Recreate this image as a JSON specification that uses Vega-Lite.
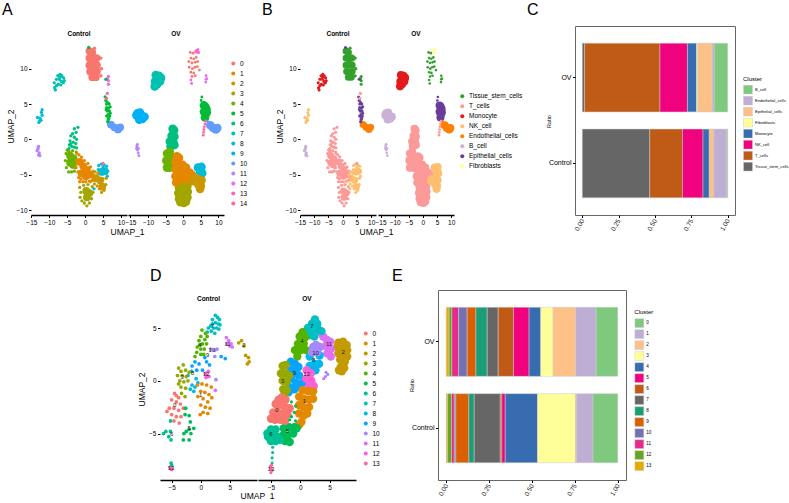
{
"$schema":"https://vega.github.io/schema/vega-lite/v6.json",
"background":"white",
"padding":{"left":0,"top":2,"right":0,"bottom":0},
"config":{"font":"Liberation Sans","view":{"stroke":null},"axis":{"grid":false,"labelFlush":false,"labelOverlap":false,"domainColor":"#000","tickColor":"#000","labelColor":"#000","titleColor":"#000","titleFontWeight":"normal","labelPadding":1.5,"tickSize":2.5},"title":{"color":"#000"}},
"datasets":{
"types":[{"c":0,"t":"Tissue_stem_cells"},{"c":12,"t":"Tissue_stem_cells"},{"c":1,"t":"T_cells"},{"c":3,"t":"T_cells"},{"c":4,"t":"T_cells"},{"c":6,"t":"T_cells"},{"c":14,"t":"T_cells"},{"c":7,"t":"Monocyte"},{"c":2,"t":"NK_cell"},{"c":8,"t":"NK_cell"},{"c":10,"t":"Endothelial_cells"},{"c":9,"t":"B_cell"},{"c":11,"t":"B_cell"},{"c":5,"t":"Epithelial_cells"},{"c":13,"t":"Fibroblasts"}],
"ctrlCore":[{"x":1.2,"y":12.5,"c":0},{"x":2,"y":12.3,"c":0},{"x":1.2,"y":11.5,"c":0},{"x":2.2,"y":11.4,"c":0},{"x":3.2,"y":11.5,"c":0},{"x":1.2,"y":10.5,"c":0},{"x":2.2,"y":10.5,"c":0},{"x":3.3,"y":10.5,"c":0},{"x":1.4,"y":9.6,"c":0},{"x":2.4,"y":9.5,"c":0},{"x":3.3,"y":9.6,"c":0},{"x":2,"y":8.8,"c":0},{"x":3,"y":8.8,"c":0},{"x":7.2,"y":2.1,"c":10},{"x":8.2,"y":1.7,"c":10},{"x":9.2,"y":1.4,"c":10},{"x":9.8,"y":1.7,"c":10},{"x":-4.2,"y":-2.3,"c":4},{"x":-4.2,"y":-3.3,"c":4},{"x":-3.2,"y":-2.7,"c":4},{"x":-3.4,"y":-3.6,"c":4},{"x":-1.5,"y":-3.2,"c":1},{"x":-0.5,"y":-3.8,"c":1},{"x":0.5,"y":-4.3,"c":1},{"x":-1,"y":-4.8,"c":1},{"x":0.2,"y":-5.2,"c":1},{"x":1.4,"y":-5,"c":1},{"x":0.3,"y":-7.3,"c":3},{"x":0.5,"y":-8.2,"c":3},{"x":1.2,"y":-7.6,"c":3},{"x":3,"y":-5.5,"c":2},{"x":4.2,"y":-5.8,"c":2},{"x":4.8,"y":-6.7,"c":2},{"x":4.6,"y":-4.6,"c":8},{"x":5.5,"y":-4.5,"c":8}],
"ctrlFine":[{"x":-8.5,"y":7.3,"c":7},{"x":-8.6,"y":8,"c":7},{"x":-8,"y":7.6,"c":7},{"x":-8,"y":8.5,"c":7},{"x":-7.6,"y":9,"c":7},{"x":-7,"y":9.2,"c":7},{"x":-6.5,"y":9,"c":7},{"x":-6,"y":8.7,"c":7},{"x":-6.1,"y":8,"c":7},{"x":-6.6,"y":8.2,"c":7},{"x":-7.2,"y":8.5,"c":7},{"x":-7.5,"y":7.8,"c":7},{"x":-6.8,"y":7.7,"c":7},{"x":-8.3,"y":7,"c":7},{"x":-5.8,"y":8.3,"c":7},{"x":-7,"y":8.8,"c":7},{"x":6.5,"y":8.9,"c":12},{"x":6.5,"y":8.3,"c":12},{"x":6.5,"y":7.8,"c":12},{"x":6.2,"y":8.6,"c":12},{"x":5.8,"y":8.5,"c":5},{"x":5.6,"y":6,"c":5},{"x":5.8,"y":5.5,"c":5},{"x":6,"y":5,"c":5},{"x":6.3,"y":5.2,"c":5},{"x":6.7,"y":5,"c":5},{"x":6,"y":4.5,"c":5},{"x":6.5,"y":4.4,"c":5},{"x":7,"y":4.6,"c":5},{"x":6.2,"y":4,"c":5},{"x":6.8,"y":4,"c":5},{"x":6.4,"y":3.5,"c":5},{"x":6,"y":3.3,"c":5},{"x":6.9,"y":3.3,"c":5},{"x":6.5,"y":2.8,"c":5},{"x":6.3,"y":2.5,"c":5},{"x":5.9,"y":4.2,"c":5},{"x":6.6,"y":3,"c":5},{"x":7,"y":3.7,"c":5},{"x":6,"y":5.8,"c":14},{"x":6.2,"y":6.5,"c":14},{"x":-12.6,"y":3,"c":8},{"x":-12.2,"y":3.8,"c":8},{"x":-12,"y":4.2,"c":8},{"x":-12.7,"y":2.6,"c":8},{"x":-13.3,"y":3.1,"c":8},{"x":-12,"y":3.4,"c":8},{"x":-12.3,"y":2.7,"c":8},{"x":-12.9,"y":2.4,"c":8},{"x":-13,"y":-1,"c":11},{"x":-13.2,"y":-1.4,"c":11},{"x":-13.4,"y":-1.6,"c":11},{"x":-12.8,"y":-1.9,"c":11},{"x":-13,"y":-2.2,"c":11},{"x":-13.1,"y":-1.2,"c":11},{"x":-12.6,"y":-2.3,"c":11},{"x":-2,"y":1.7,"c":6},{"x":-3,"y":1.5,"c":6},{"x":-2.5,"y":1,"c":6},{"x":-3.5,"y":0.8,"c":6},{"x":-4,"y":0.5,"c":6},{"x":-3,"y":0.3,"c":6},{"x":-2.4,"y":0,"c":6},{"x":-4.2,"y":-0.2,"c":6},{"x":-3.3,"y":-0.4,"c":6},{"x":-2.6,"y":-0.6,"c":6},{"x":-4.4,"y":-0.8,"c":6},{"x":-3.7,"y":-1,"c":6},{"x":-3,"y":-1.1,"c":6},{"x":-2.4,"y":-1.2,"c":6},{"x":-4.5,"y":-1.3,"c":6},{"x":-4,"y":-0.6,"c":6},{"x":-5.3,"y":-2,"c":4},{"x":-5.5,"y":-3,"c":4},{"x":-5.2,"y":-4,"c":4},{"x":-4.6,"y":-4.6,"c":4},{"x":-3.8,"y":-4.6,"c":4},{"x":-2.8,"y":-4,"c":4},{"x":-2.5,"y":-3,"c":4},{"x":-2.5,"y":-1.8,"c":4},{"x":-3.5,"y":-1.6,"c":4},{"x":-4.5,"y":-1.7,"c":4},{"x":-5,"y":-1.5,"c":4},{"x":-3,"y":-4.5,"c":4},{"x":-2.3,"y":-2,"c":1},{"x":-1.7,"y":-2.2,"c":1},{"x":-1,"y":-2.5,"c":1},{"x":-0.2,"y":-3,"c":1},{"x":0.8,"y":-3.4,"c":1},{"x":1.5,"y":-3.9,"c":1},{"x":2.2,"y":-4.5,"c":1},{"x":2.5,"y":-5.2,"c":1},{"x":-2.4,"y":-3,"c":1},{"x":-2.5,"y":-4,"c":1},{"x":-2,"y":-4.6,"c":1},{"x":-1.8,"y":-5.4,"c":1},{"x":-1.5,"y":-6,"c":1},{"x":-0.6,"y":-6,"c":1},{"x":0.2,"y":-6,"c":1},{"x":1.2,"y":-5.9,"c":1},{"x":2,"y":-5.8,"c":1},{"x":-1.2,"y":-5.6,"c":1},{"x":-1.5,"y":-6.8,"c":3},{"x":-1.2,"y":-7.5,"c":3},{"x":-1.4,"y":-8.2,"c":3},{"x":-0.9,"y":-8.7,"c":3},{"x":-0.2,"y":-9,"c":3},{"x":0.5,"y":-9.4,"c":3},{"x":1.2,"y":-9,"c":3},{"x":1.8,"y":-8.4,"c":3},{"x":2.2,"y":-7.5,"c":3},{"x":2,"y":-6.7,"c":3},{"x":0.8,"y":-6.4,"c":3},{"x":-0.4,"y":-6.5,"c":3},{"x":1.5,"y":-6,"c":2},{"x":2.2,"y":-5,"c":2},{"x":2.6,"y":-6.3,"c":2},{"x":3.4,"y":-6.6,"c":2},{"x":4,"y":-7,"c":2},{"x":4.6,"y":-7.5,"c":2},{"x":5.3,"y":-7.2,"c":2},{"x":5.8,"y":-6.4,"c":2},{"x":5.9,"y":-5.5,"c":2},{"x":3.6,"y":-4.8,"c":2},{"x":2.8,"y":-4.6,"c":2},{"x":5,"y":-5.6,"c":2},{"x":3.8,"y":-3.7,"c":8},{"x":4.5,"y":-3.5,"c":8},{"x":5.3,"y":-3.6,"c":8},{"x":6,"y":-3.8,"c":8},{"x":6.3,"y":-4.5,"c":8},{"x":6.2,"y":-5.2,"c":8},{"x":3.7,"y":-4.3,"c":8},{"x":5,"y":-3.9,"c":8},{"x":2.6,"y":12.9,"c":0},{"x":4.4,"y":11.5,"c":0},{"x":4.6,"y":10,"c":0},{"x":4.4,"y":9,"c":0},{"x":1,"y":13,"c":5},{"x":2.5,"y":-7,"c":8},{"x":5,"y":-3.4,"c":14}],
"ovCore":[{"x":-8,"y":8.2,"c":7},{"x":-7.2,"y":8.8,"c":7},{"x":-6.6,"y":8.2,"c":7},{"x":-7.4,"y":7.8,"c":7},{"x":-7.8,"y":9.1,"c":7},{"x":-6.9,"y":9,"c":7},{"x":-6.3,"y":8.7,"c":7},{"x":-8.1,"y":7.5,"c":7},{"x":-13.3,"y":3.4,"c":9},{"x":-12.3,"y":3.8,"c":9},{"x":-12,"y":3.4,"c":9},{"x":-11,"y":3.2,"c":9},{"x":-12.5,"y":2.8,"c":9},{"x":-13,"y":3.7,"c":9},{"x":-11.6,"y":2.9,"c":9},{"x":5.9,"y":4.8,"c":5},{"x":6.3,"y":4.6,"c":5},{"x":6.6,"y":4.3,"c":5},{"x":5.9,"y":3.9,"c":5},{"x":6.4,"y":3.6,"c":5},{"x":6.7,"y":3.8,"c":5},{"x":6.2,"y":3.1,"c":5},{"x":7.7,"y":2,"c":10},{"x":8.5,"y":1.6,"c":10},{"x":9.3,"y":1.4,"c":10},{"x":9.7,"y":1.6,"c":10},{"x":-3,"y":1.5,"c":6},{"x":-2.6,"y":1.3,"c":6},{"x":-3.3,"y":0.5,"c":6},{"x":-2.5,"y":0.4,"c":6},{"x":-3.8,"y":-0.3,"c":6},{"x":-2.8,"y":-0.4,"c":6},{"x":-2.5,"y":-0.8,"c":6},{"x":-3.6,"y":-1,"c":6},{"x":-4.6,"y":-2,"c":4},{"x":-3.8,"y":-1.8,"c":4},{"x":-4.8,"y":-3,"c":4},{"x":-4,"y":-3,"c":4},{"x":-3,"y":-2.7,"c":4},{"x":-4.6,"y":-4,"c":4},{"x":-3.8,"y":-4,"c":4},{"x":-3.2,"y":-3.6,"c":4},{"x":-1.2,"y":-6.8,"c":3},{"x":-0.5,"y":-6.5,"c":3},{"x":0.5,"y":-6.6,"c":3},{"x":1.2,"y":-6.6,"c":3},{"x":-1.4,"y":-7.6,"c":3},{"x":-0.7,"y":-7.4,"c":3},{"x":0.4,"y":-7.4,"c":3},{"x":1.3,"y":-7.4,"c":3},{"x":-1.2,"y":-8.4,"c":3},{"x":-0.5,"y":-8.3,"c":3},{"x":0.6,"y":-8.3,"c":3},{"x":1.2,"y":-8.2,"c":3},{"x":-0.8,"y":-8.9,"c":3},{"x":0.2,"y":-9,"c":3},{"x":0.8,"y":-8.8,"c":3},{"x":-1.8,"y":-2.4,"c":1},{"x":-1.2,"y":-2.6,"c":1},{"x":-2.2,"y":-3.2,"c":1},{"x":-1.2,"y":-3.6,"c":1},{"x":-0.2,"y":-3.6,"c":1},{"x":0.8,"y":-4,"c":1},{"x":-2.2,"y":-4.2,"c":1},{"x":-1.2,"y":-4.6,"c":1},{"x":-0.2,"y":-4.5,"c":1},{"x":0.8,"y":-4.8,"c":1},{"x":1.8,"y":-4.7,"c":1},{"x":2.5,"y":-5,"c":1},{"x":-2.2,"y":-5.2,"c":1},{"x":-1.2,"y":-5.5,"c":1},{"x":-2,"y":-6.1,"c":1},{"x":-0.2,"y":-5.5,"c":1},{"x":0.8,"y":-5.7,"c":1},{"x":1.8,"y":-5.5,"c":1},{"x":4.2,"y":-4,"c":8},{"x":5.2,"y":-3.9,"c":8},{"x":5.4,"y":-4.8,"c":8},{"x":4.8,"y":-4.6,"c":8},{"x":3.2,"y":-5.6,"c":2},{"x":4.2,"y":-5.6,"c":2},{"x":5.2,"y":-5.8,"c":2},{"x":4.3,"y":-6.4,"c":2},{"x":5,"y":-6.6,"c":2},{"x":4.8,"y":-7,"c":2},{"x":2.8,"y":-5.9,"c":2}],
"ovFine":[{"x":-13,"y":-0.7,"c":11},{"x":-13.1,"y":-1.1,"c":11},{"x":-13,"y":-1.5,"c":11},{"x":-12.8,"y":-1.9,"c":11},{"x":-12.6,"y":-2.3,"c":11},{"x":-13.3,"y":-1.3,"c":11},{"x":-12.7,"y":-1.3,"c":11},{"x":-13.2,"y":-0.9,"c":11},{"x":5.3,"y":6,"c":5},{"x":5.1,"y":5.5,"c":5},{"x":7,"y":2.5,"c":10},{"x":5.7,"y":0.6,"c":14},{"x":5.8,"y":1,"c":14},{"x":5.9,"y":1.4,"c":14},{"x":6,"y":1.8,"c":14},{"x":6.2,"y":2.2,"c":14},{"x":6.4,"y":2.6,"c":14},{"x":3.8,"y":12.6,"c":13},{"x":4.1,"y":12.3,"c":13},{"x":3.5,"y":12.4,"c":13},{"x":4.2,"y":12.7,"c":13},{"x":4.4,"y":12.3,"c":13},{"x":2.2,"y":8.4,"c":12},{"x":2.4,"y":7.9,"c":12},{"x":6.5,"y":9,"c":12},{"x":6.5,"y":8.5,"c":12},{"x":6.4,"y":8.1,"c":12},{"x":6.7,"y":8.6,"c":12},{"x":2,"y":12.3,"c":0},{"x":2.8,"y":12.2,"c":0},{"x":2.2,"y":11.5,"c":0},{"x":3,"y":11.4,"c":0},{"x":3.7,"y":11.6,"c":0},{"x":1.6,"y":11,"c":0},{"x":2.5,"y":10.8,"c":0},{"x":3.4,"y":10.9,"c":0},{"x":4.1,"y":11,"c":0},{"x":1.7,"y":10.2,"c":0},{"x":2.6,"y":10,"c":0},{"x":3.3,"y":10.2,"c":0},{"x":4,"y":10.3,"c":0},{"x":2.2,"y":9.5,"c":0},{"x":3,"y":9.4,"c":0},{"x":4.6,"y":9.8,"c":0},{"x":2.5,"y":8.9,"c":0},{"x":3.4,"y":9,"c":0}],
"dCtrl":[{"x":2.5,"y":6.2,"c":7},{"x":2.9,"y":6,"c":7},{"x":3.2,"y":5.8,"c":7},{"x":2,"y":5.8,"c":7},{"x":2.5,"y":5.5,"c":7},{"x":3,"y":5.4,"c":7},{"x":1.7,"y":5.2,"c":7},{"x":2.2,"y":5,"c":7},{"x":2.7,"y":5,"c":7},{"x":1.3,"y":5,"c":7},{"x":3.3,"y":5.3,"c":7},{"x":2.4,"y":4.5,"c":7},{"x":1.8,"y":4.7,"c":7},{"x":1.1,"y":4.6,"c":7},{"x":3.1,"y":4.9,"c":7},{"x":2,"y":5.4,"c":7},{"x":0.2,"y":4.8,"c":4},{"x":0.8,"y":4.5,"c":4},{"x":0,"y":4.2,"c":4},{"x":0.7,"y":3.9,"c":4},{"x":-0.3,"y":3.8,"c":4},{"x":0.3,"y":3.5,"c":4},{"x":1,"y":3.5,"c":4},{"x":-0.6,"y":3.2,"c":4},{"x":0,"y":3,"c":4},{"x":0.6,"y":3,"c":4},{"x":-0.7,"y":2.7,"c":4},{"x":0,"y":2.5,"c":4},{"x":1.1,"y":4.2,"c":4},{"x":-0.2,"y":3.4,"c":4},{"x":0.5,"y":2.5,"c":4},{"x":-1,"y":2.3,"c":4},{"x":-1,"y":1.8,"c":9},{"x":-0.3,"y":1.6,"c":9},{"x":0.7,"y":2.2,"c":9},{"x":1,"y":1.8,"c":9},{"x":-1.5,"y":1.4,"c":9},{"x":-0.7,"y":1,"c":9},{"x":0.3,"y":1,"c":9},{"x":1.5,"y":1.5,"c":9},{"x":3.5,"y":2.3,"c":9},{"x":4.2,"y":2.1,"c":9},{"x":-1.5,"y":-0.4,"c":8},{"x":-1,"y":-0.6,"c":8},{"x":-1.8,"y":-0.8,"c":8},{"x":-1.2,"y":-1,"c":8},{"x":-0.5,"y":-0.2,"c":8},{"x":-2.2,"y":0.5,"c":8},{"x":-1.6,"y":0.9,"c":8},{"x":-0.8,"y":0.2,"c":8},{"x":-3.8,"y":1.2,"c":3},{"x":-3,"y":1.5,"c":3},{"x":-3.4,"y":0.9,"c":3},{"x":-2.6,"y":1,"c":3},{"x":-4,"y":0.5,"c":3},{"x":-3.2,"y":0.5,"c":3},{"x":-2.5,"y":0.4,"c":3},{"x":-3.6,"y":0,"c":3},{"x":-2.9,"y":-0.1,"c":3},{"x":-2.2,"y":0,"c":3},{"x":-3.4,"y":-0.6,"c":3},{"x":-2.6,"y":-0.7,"c":3},{"x":-3.3,"y":-1.2,"c":3},{"x":-2.7,"y":-1.5,"c":3},{"x":-3.8,"y":-0.3,"c":3},{"x":-2,"y":0.8,"c":3},{"x":-4.5,"y":-1.2,"c":0},{"x":-3.8,"y":-1.6,"c":0},{"x":-5,"y":-1.8,"c":0},{"x":-4.2,"y":-2,"c":0},{"x":-3.5,"y":-2.2,"c":0},{"x":-5.4,"y":-2.6,"c":0},{"x":-4.6,"y":-2.6,"c":0},{"x":-3.8,"y":-2.8,"c":0},{"x":-3,"y":-2.6,"c":0},{"x":-5,"y":-3.2,"c":0},{"x":-4.2,"y":-3.4,"c":0},{"x":-3.4,"y":-3.4,"c":0},{"x":-4.6,"y":-3.8,"c":0},{"x":-3.7,"y":-4,"c":0},{"x":-5.8,"y":-2.9,"c":0},{"x":-4.2,"y":-1.4,"c":0},{"x":-0.6,"y":-0.4,"c":1},{"x":0.2,"y":-0.3,"c":1},{"x":1,"y":-0.4,"c":1},{"x":1.8,"y":-0.6,"c":1},{"x":0,"y":-1,"c":1},{"x":0.7,"y":-1.1,"c":1},{"x":1.4,"y":-1.3,"c":1},{"x":-0.5,"y":-1.5,"c":1},{"x":0.4,"y":-1.7,"c":1},{"x":1.2,"y":-2,"c":1},{"x":1.9,"y":-1.6,"c":1},{"x":0,"y":-2.3,"c":1},{"x":0.8,"y":-2.5,"c":1},{"x":1.6,"y":-2.6,"c":1},{"x":0.4,"y":-3,"c":1},{"x":1.2,"y":-3.1,"c":1},{"x":-0.1,"y":-3.2,"c":1},{"x":-6,"y":-4.8,"c":6},{"x":-5.5,"y":-5.3,"c":6},{"x":-5.1,"y":-5.6,"c":6},{"x":-6.4,"y":-5,"c":6},{"x":-5.2,"y":-3.8,"c":6},{"x":-5.2,"y":-4.8,"c":6},{"x":-5,"y":-8,"c":6},{"x":-5.1,"y":-7.8,"c":6},{"x":-2,"y":-3.3,"c":5},{"x":-2.6,"y":-2.6,"c":5},{"x":-1.8,"y":-3.9,"c":5},{"x":-2.5,"y":-4.8,"c":5},{"x":-2.9,"y":-5,"c":5},{"x":-2,"y":-4.6,"c":5},{"x":-1.2,"y":-4.5,"c":5},{"x":-1.7,"y":-5,"c":5},{"x":-3,"y":-5.6,"c":5},{"x":-2,"y":-5.6,"c":5},{"x":-2.7,"y":-3.2,"c":5},{"x":2.4,"y":2.9,"c":10},{"x":2.8,"y":3,"c":10},{"x":1.7,"y":3,"c":10},{"x":2.4,"y":2.3,"c":10},{"x":2.6,"y":0.1,"c":10},{"x":2.5,"y":-0.9,"c":11},{"x":4.4,"y":4.1,"c":11},{"x":4.5,"y":3.5,"c":11},{"x":5,"y":3.3,"c":11},{"x":5.2,"y":3.5,"c":11},{"x":5.4,"y":3.2,"c":11},{"x":4.8,"y":3.8,"c":11},{"x":6.5,"y":3.6,"c":2},{"x":7,"y":3.8,"c":2},{"x":7.4,"y":3.3,"c":2},{"x":7.7,"y":2.4,"c":2},{"x":8.2,"y":2.2,"c":2},{"x":8.3,"y":1.8,"c":2},{"x":8,"y":1.6,"c":2},{"x":0.8,"y":0.7,"c":12},{"x":1.1,"y":0.5,"c":12},{"x":1.3,"y":0.9,"c":12},{"x":0.9,"y":0.3,"c":12},{"x":1.4,"y":0.4,"c":12},{"x":-5.1,"y":-8.3,"c":13},{"x":-5,"y":-8.4,"c":13},{"x":-5.3,"y":-8.2,"c":13}],
"dOvCore":[{"x":7.3,"y":3.7,"c":2},{"x":6.5,"y":3.6,"c":2},{"x":7.9,"y":3.4,"c":2},{"x":6.3,"y":3.2,"c":2},{"x":7.2,"y":3.2,"c":2},{"x":8,"y":2.9,"c":2},{"x":6.5,"y":2.6,"c":2},{"x":7.3,"y":2.6,"c":2},{"x":8,"y":2.3,"c":2},{"x":6.8,"y":2,"c":2},{"x":7.6,"y":1.8,"c":2},{"x":6.9,"y":1.3,"c":2},{"x":7.5,"y":1.2,"c":2},{"x":6.6,"y":1,"c":2},{"x":7.1,"y":0.9,"c":2},{"x":3.9,"y":4.2,"c":11},{"x":4.5,"y":3.9,"c":11},{"x":5.1,"y":3.7,"c":11},{"x":4.4,"y":3.3,"c":11},{"x":5.2,"y":3,"c":11},{"x":5.2,"y":2.3,"c":11},{"x":4.6,"y":2.6,"c":11},{"x":3.5,"y":4.6,"c":11},{"x":2.5,"y":5.8,"c":7},{"x":2,"y":5.4,"c":7},{"x":2.9,"y":5.4,"c":7},{"x":1.3,"y":5,"c":7},{"x":2.1,"y":4.8,"c":7},{"x":3,"y":4.9,"c":7},{"x":0.8,"y":4.6,"c":7},{"x":3.6,"y":4.7,"c":7},{"x":1.5,"y":4.3,"c":7},{"x":2.4,"y":4.2,"c":7},{"x":0.4,"y":4.6,"c":4},{"x":0.8,"y":4.1,"c":4},{"x":-0.1,"y":4.2,"c":4},{"x":0.6,"y":3.5,"c":4},{"x":-0.4,"y":3.5,"c":4},{"x":-0.9,"y":2.9,"c":4},{"x":0.1,"y":2.9,"c":4},{"x":-0.5,"y":2.3,"c":4},{"x":1,"y":2.9,"c":4},{"x":1.6,"y":2.3,"c":8},{"x":2.4,"y":1.6,"c":8},{"x":3.2,"y":1.6,"c":8},{"x":2.6,"y":1,"c":8},{"x":1.6,"y":1.4,"c":8},{"x":3.3,"y":2.4,"c":8},{"x":2.2,"y":3.2,"c":10},{"x":2.9,"y":2.7,"c":10},{"x":3.4,"y":3.2,"c":10},{"x":2,"y":2.7,"c":10},{"x":2.7,"y":3.4,"c":10},{"x":-1.6,"y":1.8,"c":9},{"x":-0.9,"y":1.6,"c":9},{"x":-0.3,"y":1.3,"c":9},{"x":-1.6,"y":1,"c":9},{"x":-0.9,"y":0.8,"c":9},{"x":-0.2,"y":0.5,"c":9},{"x":-1.5,"y":0.2,"c":9},{"x":-0.7,"y":-0.2,"c":9},{"x":-1.8,"y":-0.6,"c":9},{"x":-1,"y":-0.8,"c":9},{"x":-2,"y":-1.1,"c":9},{"x":-0.2,"y":-0.6,"c":9},{"x":0.4,"y":-0.2,"c":9},{"x":1.1,"y":1,"c":12},{"x":1.8,"y":0.7,"c":12},{"x":1,"y":0.2,"c":12},{"x":1.9,"y":0,"c":12},{"x":2.3,"y":-0.5,"c":12},{"x":1.5,"y":-0.5,"c":12},{"x":-3,"y":1.4,"c":3},{"x":-2.5,"y":1.5,"c":3},{"x":-3.3,"y":0.7,"c":3},{"x":-2.5,"y":0.7,"c":3},{"x":-1.9,"y":0.5,"c":3},{"x":-3,"y":0,"c":3},{"x":-2.3,"y":-0.1,"c":3},{"x":-2.9,"y":-0.8,"c":3},{"x":-2.3,"y":-0.9,"c":3},{"x":-2.7,"y":-1.3,"c":3},{"x":0.4,"y":-0.9,"c":1},{"x":1.4,"y":-1,"c":1},{"x":2.2,"y":-1,"c":1},{"x":-0.2,"y":-1.5,"c":1},{"x":0.6,"y":-1.7,"c":1},{"x":1.5,"y":-1.8,"c":1},{"x":2.2,"y":-1.7,"c":1},{"x":-0.2,"y":-2.3,"c":1},{"x":0.6,"y":-2.5,"c":1},{"x":1.5,"y":-2.5,"c":1},{"x":-0.2,"y":-3.1,"c":1},{"x":0.6,"y":-3.3,"c":1},{"x":1.2,"y":-3.1,"c":1},{"x":0.2,"y":-3.9,"c":1},{"x":-0.2,"y":-4.2,"c":1},{"x":-2.8,"y":-4.5,"c":5},{"x":-1.9,"y":-4.4,"c":5},{"x":-1,"y":-4.4,"c":5},{"x":-3,"y":-5.2,"c":5},{"x":-2.2,"y":-5.2,"c":5},{"x":-1.2,"y":-5,"c":5},{"x":-2.6,"y":-5.7,"c":5},{"x":-1.8,"y":-5.8,"c":5},{"x":-0.6,"y":-4.5,"c":5},{"x":-5.6,"y":-5,"c":6},{"x":-5,"y":-4.6,"c":6},{"x":-4.2,"y":-4.6,"c":6},{"x":-5.5,"y":-5.3,"c":6},{"x":-4.9,"y":-5.3,"c":6},{"x":-4,"y":-5.3,"c":6},{"x":-5,"y":-5.7,"c":6},{"x":-4.2,"y":-5.7,"c":6},{"x":-3.5,"y":-5.6,"c":6},{"x":-3.2,"y":-1.6,"c":0},{"x":-3.7,"y":-1.8,"c":0},{"x":-2.5,"y":-1.8,"c":0},{"x":-4.2,"y":-2.2,"c":0},{"x":-3.5,"y":-2.3,"c":0},{"x":-2.6,"y":-2.5,"c":0},{"x":-1.8,"y":-2.6,"c":0},{"x":-4.6,"y":-3,"c":0},{"x":-3.9,"y":-3,"c":0},{"x":-3,"y":-3.1,"c":0},{"x":-2.2,"y":-3.2,"c":0},{"x":-5,"y":-3.6,"c":0},{"x":-4.3,"y":-3.7,"c":0},{"x":-3.4,"y":-3.7,"c":0},{"x":-2.6,"y":-3.8,"c":0}],
"dOvFine":[{"x":-4.7,"y":-6.3,"c":6},{"x":-4.7,"y":-6.8,"c":6},{"x":-4.8,"y":-7.3,"c":6},{"x":-4.8,"y":-7.8,"c":6},{"x":-5,"y":-8.3,"c":13},{"x":-5.1,"y":-8.1,"c":13},{"x":-4.8,"y":-8.5,"c":13},{"x":-5,"y":-8.7,"c":13},{"x":-4.9,"y":-8,"c":13},{"x":-1.5,"y":-2,"c":5},{"x":-1,"y":-3,"c":5},{"x":-1.5,"y":-3.4,"c":5},{"x":-0.8,"y":-2.4,"c":5},{"x":-1.8,"y":-3.7,"c":5},{"x":-0.8,"y":-3.8,"c":5},{"x":4.4,"y":0.8,"c":10},{"x":4.3,"y":0.4,"c":10},{"x":4.7,"y":0.6,"c":10},{"x":4,"y":0.2,"c":11}],
"dLabCtrl":[{"x":-4.5,"y":-2.3,"c":"0"},{"x":0,"y":-1.3,"c":"1"},{"x":7.4,"y":3.4,"c":"2"},{"x":-3.2,"y":0.4,"c":"3"},{"x":-0.1,"y":3.4,"c":"4"},{"x":-2,"y":-4.5,"c":"5"},{"x":-5,"y":-5,"c":"6"},{"x":2,"y":5.2,"c":"7"},{"x":-1.4,"y":0.7,"c":"8"},{"x":1.2,"y":2.4,"c":"9"},{"x":1.9,"y":2.9,"c":"10"},{"x":4.6,"y":3.5,"c":"11"},{"x":0.9,"y":0.6,"c":"12"},{"x":-5.1,"y":-8.3,"c":"13"}],
"dLabOv":[{"x":-4,"y":-2.8,"c":"0"},{"x":0.7,"y":-1.9,"c":"1"},{"x":7.3,"y":2.7,"c":"2"},{"x":-3,"y":0,"c":"3"},{"x":0.3,"y":3.8,"c":"4"},{"x":-2.2,"y":-4.8,"c":"5"},{"x":-5,"y":-5,"c":"6"},{"x":2,"y":5.2,"c":"7"},{"x":2.3,"y":2,"c":"8"},{"x":-1,"y":0.7,"c":"9"},{"x":2.6,"y":2.6,"c":"10"},{"x":4.9,"y":3.5,"c":"11"},{"x":1.1,"y":0.6,"c":"12"},{"x":-5,"y":-8.4,"c":"13"}],
"barC":[{"g":"Control","k":"Tissue_stem_cells","v":0.464},{"g":"Control","k":"T_cells","v":0.225},{"g":"Control","k":"NK_cell","v":0.141},{"g":"Control","k":"Monocyte","v":0.043},{"g":"Control","k":"Epithelial_cells","v":0.032},{"g":"Control","k":"Endothelial_cells","v":0.088},{"g":"Control","k":"B_cell","v":0.007},{"g":"OV","k":"Tissue_stem_cells","v":0.016},{"g":"OV","k":"T_cells","v":0.518},{"g":"OV","k":"NK_cell","v":0.189},{"g":"OV","k":"Monocyte","v":0.063},{"g":"OV","k":"Fibroblasts","v":0.009},{"g":"OV","k":"Epithelial_cells","v":0.098},{"g":"OV","k":"Endothelial_cells","v":0.014},{"g":"OV","k":"B_cell","v":0.093}],
"barE":[{"g":"OV","k":13,"v":0.017},{"g":"OV","k":12,"v":0.016},{"g":"OV","k":11,"v":0.039},{"g":"OV","k":10,"v":0.05},{"g":"OV","k":9,"v":0.051},{"g":"OV","k":8,"v":0.066},{"g":"OV","k":7,"v":0.064},{"g":"OV","k":6,"v":0.089},{"g":"OV","k":5,"v":0.091},{"g":"OV","k":4,"v":0.068},{"g":"OV","k":3,"v":0.072},{"g":"OV","k":2,"v":0.132},{"g":"OV","k":1,"v":0.119},{"g":"OV","k":0,"v":0.126},{"g":"Control","k":13,"v":0.008},{"g":"Control","k":12,"v":0.023},{"g":"Control","k":11,"v":0.016},{"g":"Control","k":10,"v":0.009},{"g":"Control","k":9,"v":0.076},{"g":"Control","k":8,"v":0.031},{"g":"Control","k":7,"v":0.152},{"g":"Control","k":6,"v":0.009},{"g":"Control","k":5,"v":0.02},{"g":"Control","k":4,"v":0.188},{"g":"Control","k":3,"v":0.221},{"g":"Control","k":2,"v":0.006},{"g":"Control","k":1,"v":0.097},{"g":"Control","k":0,"v":0.144}]
},
"spacing":32,
"resolve":{"scale":{"color":"independent","x":"independent","y":"independent"}},
"vconcat":[
{"hconcat":[
{"width":31,"height":1,"title":{"text":"A","anchor":"start","frame":"group","fontSize":16,"fontWeight":"normal","dx":2,"offset":8},"data":{"values":[]},"mark":"point"},
{"width":96,"height":189,"title":{"text":"Control","fontSize":6.5,"fontWeight":"bold","offset":-11},
 "encoding":{"x":{"field":"x","type":"quantitative","scale":{"domain":[-15.1,11.7],"nice":false,"zero":false},"axis":{"values":[-15,-10,-5,0,5,10],"title":"UMAP_1","titleFontSize":8.5,"titleX":96,"titleY":12,"labelFontSize":6.5,"domainWidth":1.3}},
 "y":{"field":"y","type":"quantitative","scale":{"domain":[-10.7,16.04],"nice":false,"zero":false},"axis":{"values":[-10,-5,0,5,10],"domain":false,"title":"UMAP_2","titleFontSize":8.5,"titleX":-16,"titleY":100,"labelFontSize":6.5}},
 "color":{"field":"c","type":"nominal","legend":null,"scale":{"domain":[0,1,2,3,4,5,6,7,8,9,10,11,12,13,14],"range":["#F8766D","#E58700","#C99800","#A3A500","#6BB100","#00BA38","#00BF7D","#00C0AF","#00BCD8","#00B0F6","#619CFF","#B983FF","#E76BF3","#FD61D1","#FF67A4"]}}},
 "layer":[
 {"data":{"values":[{}]},"mark":{"type":"rule","strokeWidth":1.3},"encoding":{"x":{"datum":-15.1},"y":{"datum":-10.7},"y2":{"datum":14.2},"color":{"value":"#000"}}},
 {"data":{"name":"ctrlCore"},"mark":{"type":"point","filled":true,"opacity":1,"size":60}},
 {"data":{"name":"ctrlFine"},"mark":{"type":"point","filled":true,"opacity":1,"size":11}}]},
{"width":1,"height":1,"data":{"values":[]},"mark":"point"},
{"width":96,"height":189,"title":{"text":"OV","fontSize":6.5,"fontWeight":"bold","offset":-11},
 "encoding":{"x":{"field":"x","type":"quantitative","scale":{"domain":[-15.7,11.6],"nice":false,"zero":false},"axis":{"values":[-15,-10,-5,0,5,10],"title":null,"labelFontSize":6.5,"domainWidth":1.3}},
 "y":{"field":"y","type":"quantitative","scale":{"domain":[-10.7,16.04],"nice":false,"zero":false},"axis":null},
 "color":{"field":"c","type":"nominal","legend":{"orient":"none","legendX":102,"legendY":33,"title":null,"labelFontSize":6.5,"symbolSize":16,"symbolType":"circle","clipHeight":9.19,"rowPadding":0,"labelOffset":3.5,"symbolOpacity":1},"scale":{"domain":[0,1,2,3,4,5,6,7,8,9,10,11,12,13,14],"range":["#F8766D","#E58700","#C99800","#A3A500","#6BB100","#00BA38","#00BF7D","#00C0AF","#00BCD8","#00B0F6","#619CFF","#B983FF","#E76BF3","#FD61D1","#FF67A4"]}}},
 "layer":[
 {"data":{"name":"ovCore"},"mark":{"type":"point","filled":true,"opacity":1,"size":75}},
 {"data":{"name":"ovFine"},"mark":{"type":"point","filled":true,"opacity":1,"size":8}}]},
{"width":76,"height":1,"title":{"text":"B","anchor":"start","frame":"group","fontSize":16,"fontWeight":"normal","dx":38,"offset":8},"data":{"values":[]},"mark":"point"},
{"width":76,"height":189,"title":{"text":"Control","fontSize":6.5,"fontWeight":"bold","offset":-11},
 "encoding":{"x":{"field":"x","type":"quantitative","scale":{"domain":[-15,11.7],"nice":false,"zero":false},"axis":{"values":[-15,-10,-5,0,5,10],"title":"UMAP_1","titleFontSize":8.5,"titleX":76,"titleY":12,"labelFontSize":6.5,"domainWidth":1.3}},
 "y":{"field":"y","type":"quantitative","scale":{"domain":[-10.7,16.04],"nice":false,"zero":false},"axis":{"values":[-10,-5,0,5,10],"domain":false,"title":"UMAP_2","titleFontSize":8.5,"titleX":-16,"titleY":100,"labelFontSize":6.5}},
 "color":{"field":"t","type":"nominal","legend":null,"scale":{"domain":["Tissue_stem_cells","T_cells","Monocyte","NK_cell","Endothelial_cells","B_cell","Epithelial_cells","Fibroblasts"],"range":["#33A02C","#FB9A99","#E31A1C","#FDBF6F","#FF7F00","#CAB2D6","#6A3D9A","#FFFF99"]}}},
 "layer":[
 {"data":{"values":[{}]},"mark":{"type":"rule","strokeWidth":1.3},"encoding":{"x":{"datum":-15},"y":{"datum":-10.7},"y2":{"datum":14.2},"color":{"value":"#000"}}},
 {"data":{"name":"ctrlCore"},"transform":[{"lookup":"c","from":{"data":{"name":"types"},"key":"c","fields":["t"]}}],"mark":{"type":"point","filled":true,"opacity":1,"size":50}},
 {"data":{"name":"ctrlFine"},"transform":[{"lookup":"c","from":{"data":{"name":"types"},"key":"c","fields":["t"]}}],"mark":{"type":"point","filled":true,"opacity":1,"size":10}}]},
{"width":2,"height":1,"data":{"values":[]},"mark":"point"},
{"width":76,"height":189,"title":{"text":"OV","fontSize":6.5,"fontWeight":"bold","offset":-11},
 "encoding":{"x":{"field":"x","type":"quantitative","scale":{"domain":[-15.9,11],"nice":false,"zero":false},"axis":{"values":[-15,-10,-5,0,5,10],"title":null,"labelFontSize":6.5,"domainWidth":1.3}},
 "y":{"field":"y","type":"quantitative","scale":{"domain":[-10.7,16.04],"nice":false,"zero":false},"axis":null},
 "color":{"field":"t","type":"nominal","legend":{"orient":"none","legendX":81,"legendY":65.7,"title":null,"labelFontSize":6.5,"symbolSize":16,"symbolType":"circle","clipHeight":9.19,"rowPadding":0,"labelOffset":3.5,"symbolOpacity":1},"scale":{"domain":["Tissue_stem_cells","T_cells","Monocyte","NK_cell","Endothelial_cells","B_cell","Epithelial_cells","Fibroblasts"],"range":["#33A02C","#FB9A99","#E31A1C","#FDBF6F","#FF7F00","#CAB2D6","#6A3D9A","#FFFF99"]}}},
 "layer":[
 {"data":{"name":"ovCore"},"transform":[{"lookup":"c","from":{"data":{"name":"types"},"key":"c","fields":["t"]}}],"mark":{"type":"point","filled":true,"opacity":1,"size":65}},
 {"data":{"name":"ovFine"},"transform":[{"lookup":"c","from":{"data":{"name":"types"},"key":"c","fields":["t"]}}],"mark":{"type":"point","filled":true,"opacity":1,"size":7}}]},
{"width":121,"height":1,"title":{"text":"C","anchor":"start","frame":"group","fontSize":16,"fontWeight":"normal","dx":73,"offset":8},"data":{"values":[]},"mark":"point"},
{"width":160,"height":189,"view":{"stroke":"#666","strokeWidth":1},"data":{"name":"barC"},"mark":{"type":"bar","stroke":"#ccc","strokeWidth":0.5},
 "encoding":{"x":{"field":"v","type":"quantitative","stack":"zero","scale":{"domain":[-0.05,1.05],"nice":false,"zero":false},"axis":{"values":[0,0.25,0.5,0.75,1],"format":".2f","title":null,"domain":false,"labelAngle":-60,"labelFontSize":6.5,"labelColor":"#222"}},
 "y":{"field":"g","type":"nominal","sort":["OV","Control"],"scale":{"paddingInner":0.2,"paddingOuter":0.2},"axis":{"title":"Ratio","titleFontSize":5.5,"titleX":-24,"titleY":95,"domain":false,"labelFontSize":7}},
 "order":{"field":"k","sort":"descending"},
 "color":{"field":"k","type":"nominal","scale":{"domain":["B_cell","Endothelial_cells","Epithelial_cells","Fibroblasts","Monocyte","NK_cell","T_cells","Tissue_stem_cells"],"range":["#7FC97F","#BEAED4","#FDC086","#FFFF99","#386CB0","#F0027F","#BF5B17","#666666"]},"legend":{"orient":"none","legendX":168,"legendY":49.5,"title":"Cluster","titleFontSize":6,"titleFontWeight":"normal","labelFontSize":4.1,"symbolType":"square","symbolSize":80,"symbolStrokeColor":"#ccc","symbolStrokeWidth":0.5,"clipHeight":10.3,"rowPadding":0,"labelOffset":2,"titlePadding":3,"symbolOpacity":1}}}}
],"spacing":0,"bounds":"flush","resolve":{"scale":{"color":"independent","x":"independent","y":"independent"}}},
{"hconcat":[
{"width":160,"height":1,"title":{"text":"D","anchor":"start","frame":"group","fontSize":16,"fontWeight":"normal","dx":150,"offset":6},"data":{"values":[]},"mark":"point"},
{"width":97,"height":190,"title":{"text":"Control","fontSize":6.5,"fontWeight":"bold","offset":-12},
 "encoding":{"x":{"field":"x","type":"quantitative","scale":{"domain":[-7,9.65],"nice":false,"zero":false},"axis":{"values":[-5,0,5],"title":"UMAP_1","titleFontSize":8.5,"titleX":97,"titleY":11,"labelFontSize":6.5,"domainWidth":1.3}},
 "y":{"field":"y","type":"quantitative","scale":{"domain":[-9.4,8.6],"nice":false,"zero":false},"axis":{"values":[-5,0,5],"domain":false,"title":"UMAP_2","titleFontSize":8.5,"titleX":-14,"titleY":99,"labelFontSize":6.5}},
 "color":{"field":"c","type":"nominal","legend":null,"scale":{"domain":[0,1,2,3,4,5,6,7,8,9,10,11,12,13],"range":["#F8766D","#E38900","#C49A00","#99A800","#53B400","#00BC56","#00C094","#00BFC4","#00B6EB","#06A4FF","#A58AFF","#DF70F8","#FB61D7","#FF66A8"]}}},
 "layer":[
 {"data":{"values":[{}]},"mark":{"type":"rule","strokeWidth":1.3},"encoding":{"x":{"datum":-7},"y":{"datum":-9.4},"y2":{"datum":7.18},"color":{"value":"#000"}}},
 {"data":{"name":"dCtrl"},"mark":{"type":"point","filled":true,"opacity":1,"size":14}},
 {"data":{"name":"dLabCtrl"},"mark":{"type":"text","fontSize":6,"color":"#222"},"encoding":{"text":{"field":"c"},"color":{"value":"#222"}}}]},
{"width":1,"height":1,"data":{"values":[]},"mark":"point"},
{"width":98,"height":190,"title":{"text":"OV","fontSize":6.5,"fontWeight":"bold","offset":-12},
 "encoding":{"x":{"field":"x","type":"quantitative","scale":{"domain":[-7.2,9.5],"nice":false,"zero":false},"axis":{"values":[-5,0,5],"title":null,"labelFontSize":6.5,"domainWidth":1.3}},
 "y":{"field":"y","type":"quantitative","scale":{"domain":[-9.4,8.6],"nice":false,"zero":false},"axis":null},
 "color":{"field":"c","type":"nominal","legend":{"orient":"none","legendX":104.5,"legendY":39,"title":null,"labelFontSize":6.5,"symbolSize":16,"symbolType":"circle","clipHeight":9.15,"rowPadding":0,"labelOffset":3.5,"symbolOpacity":1},"scale":{"domain":[0,1,2,3,4,5,6,7,8,9,10,11,12,13],"range":["#F8766D","#E38900","#C49A00","#99A800","#53B400","#00BC56","#00C094","#00BFC4","#00B6EB","#06A4FF","#A58AFF","#DF70F8","#FB61D7","#FF66A8"]}}},
 "layer":[
 {"data":{"name":"dOvCore"},"mark":{"type":"point","filled":true,"opacity":1,"size":70}},
 {"data":{"name":"dOvFine"},"mark":{"type":"point","filled":true,"opacity":1,"size":10}},
 {"data":{"name":"dLabOv"},"mark":{"type":"text","fontSize":6,"color":"#222"},"encoding":{"text":{"field":"c"},"color":{"value":"#222"}}}]},
{"width":82,"height":1,"title":{"text":"E","anchor":"start","frame":"group","fontSize":16,"fontWeight":"normal","dx":36,"offset":6},"data":{"values":[]},"mark":"point"},
{"width":188,"height":190,"view":{"stroke":"#666","strokeWidth":1},"data":{"name":"barE"},"mark":{"type":"bar","stroke":"#ccc","strokeWidth":0.5},
 "encoding":{"x":{"field":"v","type":"quantitative","stack":"zero","scale":{"domain":[-0.048,1.048],"nice":false,"zero":false},"axis":{"values":[0,0.25,0.5,0.75,1],"format":".2f","title":null,"domain":false,"labelAngle":-60,"labelFontSize":6.5,"labelColor":"#222"}},
 "y":{"field":"g","type":"nominal","sort":["OV","Control"],"scale":{"paddingInner":0.2,"paddingOuter":0.2},"axis":{"title":"Ratio","titleFontSize":5.5,"titleX":-23.7,"titleY":95,"domain":false,"labelFontSize":7}},
 "order":{"field":"k","sort":"descending"},
 "color":{"field":"k","type":"nominal","scale":{"domain":[0,1,2,3,4,5,6,7,8,9,10,11,12,13],"range":["#7FC97F","#BEAED4","#FDC086","#FFFF99","#386CB0","#F0027F","#BF5B17","#666666","#1B9E77","#D95F02","#7570B3","#E7298A","#66A61E","#E6AB02"]},"legend":{"orient":"none","legendX":196.3,"legendY":19,"title":"Cluster","titleFontSize":6,"titleFontWeight":"normal","labelFontSize":4.6,"symbolType":"square","symbolSize":80,"symbolStrokeColor":"#ccc","symbolStrokeWidth":0.5,"clipHeight":10.3,"rowPadding":0,"labelOffset":2,"titlePadding":3,"symbolOpacity":1}}}}
],"spacing":0,"bounds":"flush","resolve":{"scale":{"color":"independent","x":"independent","y":"independent"}}}
]
}
